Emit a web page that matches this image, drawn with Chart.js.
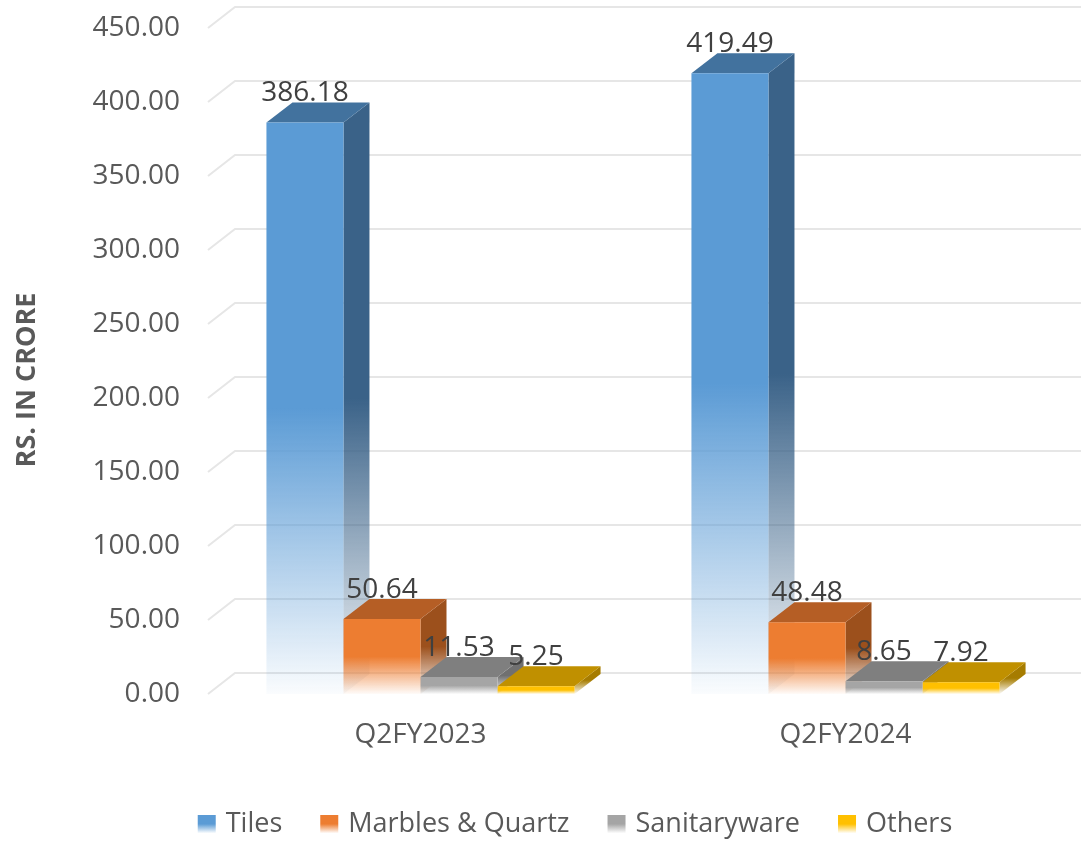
<!DOCTYPE html>
<html>
<head>
<meta charset="utf-8">
<title>Revenue by segment</title>
<script src="https://cdn.jsdelivr.net/npm/chart.js@4.4.1/dist/chart.umd.min.js"></script>
<style>
    html, body { margin: 0; padding: 0; background: #ffffff; }
    canvas { display: block; }
</style>
</head>
<body>
<canvas id="segmentChart" width="1081" height="842"></canvas>
<script>
var quarters = ['Q2FY2023', 'Q2FY2024'];
var seriesNames = ['Tiles', 'Marbles & Quartz', 'Sanitaryware', 'Others'];
var tilesValues = [386.18, 419.49];
var marblesValues = [50.64, 48.48];
var sanitaryValues = [11.53, 8.65];
var othersValues = [5.25, 7.92];
var yMin = 0;
var yMax = 450;
var yStep = 50;
var yTitle = 'RS. IN CRORE';

// face colours: front, top, side
var frontColors = [[91, 155, 213], [237, 125, 49], [165, 165, 165], [255, 192, 0]];
var topColors = [[66, 114, 158], [181, 94, 37], [127, 127, 127], [192, 144, 0]];
var sideColors = [[58, 98, 136], [156, 80, 28], [112, 112, 112], [166, 124, 0]];

var DX = 26;   // depth offset of the 3d boxes
var DY = 20;

var textFont = "'Open Sans', sans-serif";

function rgba(c, a) {
    return 'rgba(' + c[0] + ',' + c[1] + ',' + c[2] + ',' + a + ')';
}

function fadeGradient(ctx, c, top, bottom) {
    var g = ctx.createLinearGradient(0, top, 0, bottom);
    g.addColorStop(0, rgba(c, 1));
    g.addColorStop(0.5, rgba(c, 1));
    g.addColorStop(1, rgba(c, 0.03));
    return g;
}

function frontFill(i) {
    return function (c) {
        var chart = c.chart;
        var yScale = chart.scales.y;
        if (!chart.chartArea || !yScale || c.raw === undefined) {
            return rgba(frontColors[i], 1);
        }
        var top = yScale.getPixelForValue(c.raw);
        var base = yScale.getPixelForValue(0);
        return fadeGradient(chart.ctx, frontColors[i], top, base);
    };
}

var depthPlugin = {
    id: 'depth',
    beforeDatasetsDraw: function (chart) {
        var ctx = chart.ctx;
        var area = chart.chartArea;
        var yScale = chart.scales.y;

        // back wall grid lines with their floor diagonal
        ctx.save();
        ctx.strokeStyle = '#e6e6e6';
        ctx.lineWidth = 2;
        for (var v = yMin; v <= yMax; v += yStep) {
            var y = yScale.getPixelForValue(v);
            ctx.beginPath();
            ctx.moveTo(area.left, y);
            ctx.lineTo(area.left + DX + 1, y - DY - 1);
            ctx.lineTo(chart.width, y - DY - 1);
            ctx.stroke();
        }

        // side and top faces, left to right so neighbours overlap properly
        for (var j = 0; j < quarters.length; j++) {
            for (var i = 0; i < seriesNames.length; i++) {
                var el = chart.getDatasetMeta(i).data[j];
                var p = el.getProps(['x', 'y', 'base', 'width'], true);
                var left = p.x - p.width / 2;
                var right = p.x + p.width / 2;

                ctx.beginPath();
                ctx.moveTo(right, p.y);
                ctx.lineTo(right + DX, p.y - DY);
                ctx.lineTo(right + DX, p.base - DY);
                ctx.lineTo(right, p.base);
                ctx.closePath();
                ctx.fillStyle = fadeGradient(ctx, sideColors[i], p.y - DY, p.base);
                ctx.fill();

                ctx.beginPath();
                ctx.moveTo(left, p.y);
                ctx.lineTo(left + DX, p.y - DY);
                ctx.lineTo(right + DX, p.y - DY);
                ctx.lineTo(right, p.y);
                ctx.closePath();
                ctx.fillStyle = rgba(topColors[i], 1);
                ctx.fill();
            }
        }
        ctx.restore();
    },
    afterDatasetsDraw: function (chart) {
        var ctx = chart.ctx;
        ctx.save();
        ctx.font = '28px ' + textFont;
        ctx.fillStyle = '#404040';
        ctx.textAlign = 'center';
        ctx.textBaseline = 'alphabetic';
        chart.data.datasets.forEach(function (ds, i) {
            chart.getDatasetMeta(i).data.forEach(function (el, j) {
                ctx.fillText(ds.data[j].toFixed(2), el.x, el.y - DY - 1);
            });
        });
        ctx.restore();
    },
    afterDraw: function (chart) {
        var ctx = chart.ctx;
        ctx.save();

        // rotated axis title
        ctx.font = 'bold 27px ' + textFont;
        ctx.fillStyle = '#595959';
        ctx.textAlign = 'center';
        ctx.textBaseline = 'middle';
        ctx.translate(27, 380);
        ctx.rotate(-Math.PI / 2);
        ctx.fillText(yTitle, 0, 0);
        ctx.setTransform(1, 0, 0, 1, 0, 0);

        // legend row under the axis
        ctx.font = '27px ' + textFont;
        var boxW = 18, boxH = 18, gap = 10, spacing = 38;
        var total = 0;
        seriesNames.forEach(function (name, i) {
            total += boxW + gap + ctx.measureText(name).width;
            if (i < seriesNames.length - 1) total += spacing;
        });
        var x = 575 - total / 2;
        var cy = 824;
        ctx.textBaseline = 'middle';
        ctx.textAlign = 'left';
        seriesNames.forEach(function (name, i) {
            ctx.fillStyle = fadeGradient(ctx, frontColors[i], cy - boxH / 2, cy + boxH / 2);
            ctx.fillRect(x, cy - boxH / 2, boxW, boxH);
            x += boxW + gap;
            ctx.fillStyle = '#595959';
            ctx.fillText(name, x, cy);
            x += ctx.measureText(name).width + spacing;
        });
        ctx.restore();
    }
};

var seriesValues = [tilesValues, marblesValues, sanitaryValues, othersValues];

var ctx = document.getElementById('segmentChart').getContext('2d');
new Chart(ctx, {
    type: 'bar',
    data: {
        labels: quarters,
        datasets: seriesNames.map(function (name, i) {
            return {
                label: name,
                data: seriesValues[i],
                backgroundColor: frontFill(i),
                borderWidth: 0,
                categoryPercentage: 0.725,
                barPercentage: 1.0
            };
        })
    },
    options: {
        responsive: false,
        animation: false,
        layout: {
            padding: { top: 28, right: 23, bottom: 0, left: 0 }
        },
        plugins: {
            legend: { display: false },
            tooltip: { enabled: false }
        },
        scales: {
            x: {
                grid: { display: false, drawTicks: false, tickLength: 0 },
                border: { display: false },
                ticks: {
                    padding: 24,
                    color: '#595959',
                    font: { family: textFont, size: 28 }
                },
                afterFit: function (scale) {
                    scale.height = 148;
                }
            },
            y: {
                min: yMin,
                max: yMax,
                grid: { display: false, drawTicks: false, tickLength: 0 },
                border: { display: false },
                ticks: {
                    stepSize: yStep,
                    padding: 28,
                    color: '#595959',
                    font: { family: textFont, size: 28 },
                    callback: function (value) {
                        return Number(value).toFixed(2);
                    }
                },
                afterFit: function (scale) {
                    scale.width = 208;
                    scale.paddingTop = 0;
                    scale.paddingBottom = 0;
                }
            }
        }
    },
    plugins: [depthPlugin]
});
</script>
</body>
</html>
